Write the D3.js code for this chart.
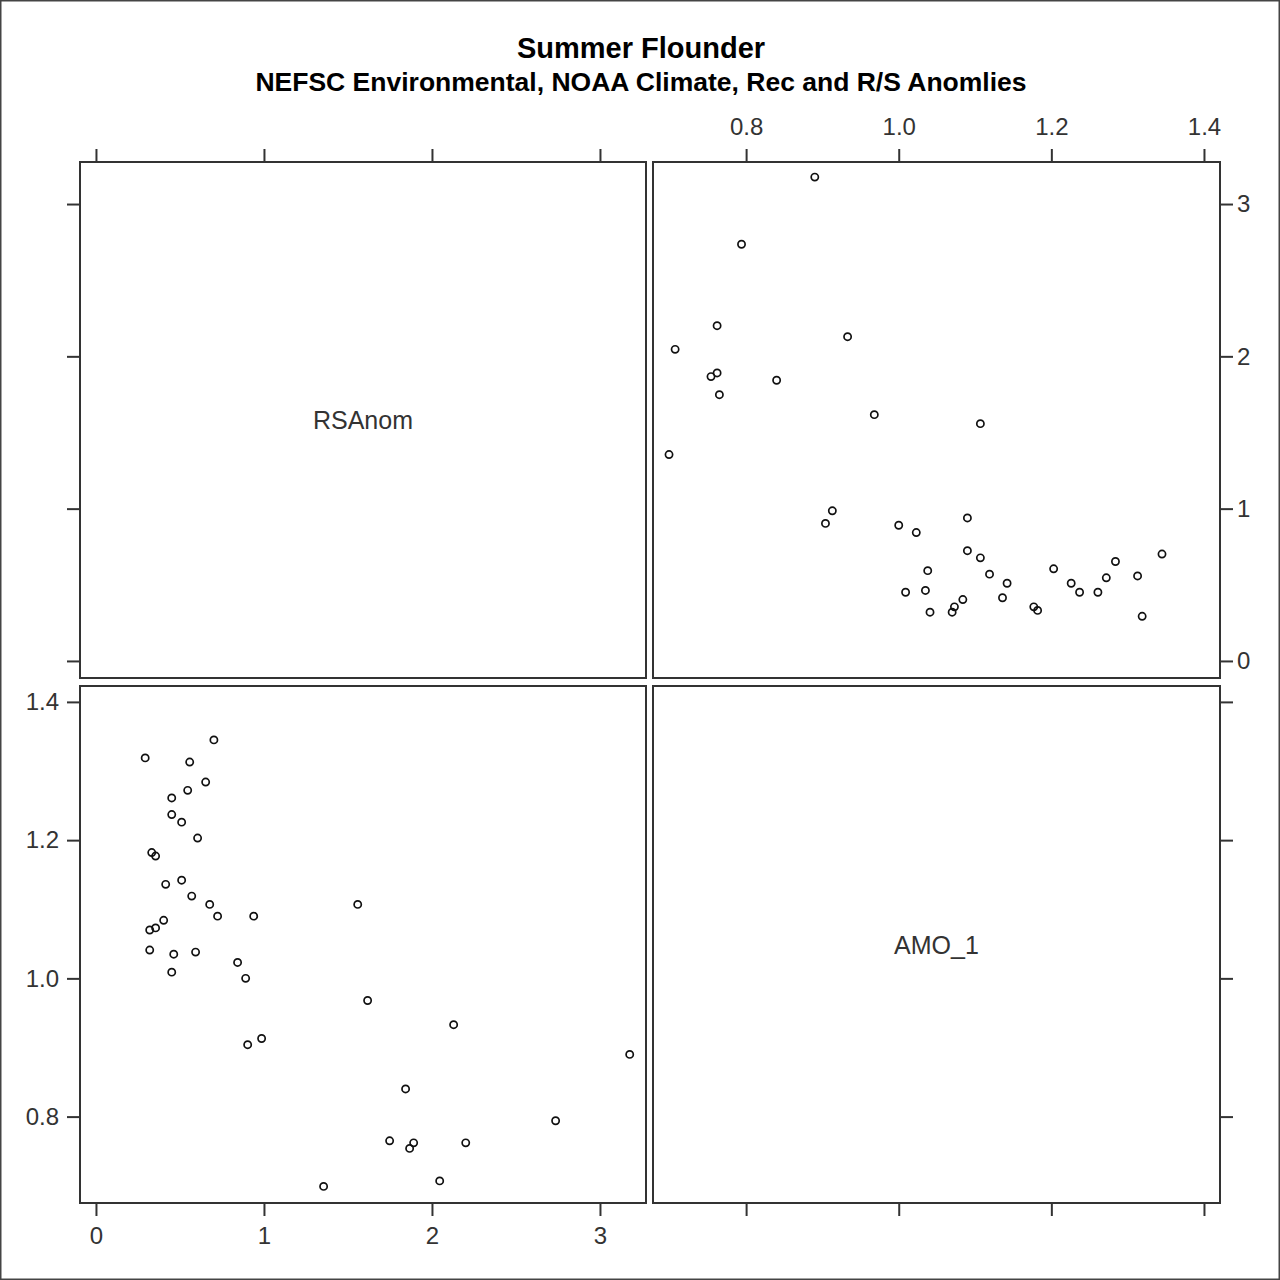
<!DOCTYPE html>
<html>
<head>
<meta charset="utf-8">
<script src="https://cdn.jsdelivr.net/npm/d3@7"></script>
<style>
  html, body { margin: 0; padding: 0; background: #fff; }
  svg { display: block; }
  text { font-family: "Liberation Sans", Arial, sans-serif; }
</style>
</head>
<body>
<svg id="chart" width="1280" height="1280"></svg>
<script>
// ---- Data ----
const variables = ["RSAnom", "AMO_1"];
const rsAnom = [0.293, 0.702, 0.558, 0.653, 0.546, 0.451, 0.451, 0.510, 0.605, 0.332,
                0.355, 0.415, 0.510, 0.570, 0.677, 0.724, 0.939, 0.403, 0.355, 0.320,
                0.320, 0.463, 0.593, 0.451, 0.843, 0.891, 1.558, 1.617, 0.903, 0.986,
                2.129, 1.843, 3.177, 2.736, 1.748, 1.891, 1.867, 2.201, 1.355, 2.046];
const amo1   = [1.319, 1.345, 1.313, 1.284, 1.272, 1.261, 1.237, 1.226, 1.203, 1.182,
                1.177, 1.136, 1.142, 1.119, 1.107, 1.090, 1.090, 1.084, 1.073, 1.070,
                1.041, 1.035, 1.038, 1.009, 1.023, 1.000, 1.107, 0.968, 0.904, 0.913,
                0.933, 0.840, 0.890, 0.794, 0.765, 0.762, 0.754, 0.762, 0.699, 0.707];
const rsTicks  = [0, 1, 2, 3];
const amoTicks = [0.8, 1.0, 1.2, 1.4];
const rsTickLabels  = ["0", "1", "2", "3"];
const amoTickLabels = ["0.8", "1.0", "1.2", "1.4"];
const titleText = "Summer Flounder";
const subtitleText = "NEFSC Environmental, NOAA Climate, Rec and R/S Anomlies";

// ---- Layout ----
const svg = d3.select("#chart");
const colL = [80, 646], colR = [653, 1220];
const rowT = [162, 678], rowB = [686, 1203];

const xRS  = d3.scaleLinear().domain([-0.095, 3.274]).range(colL);
const xAMO = d3.scaleLinear().domain([0.678, 1.421]).range(colR);
const yRS  = d3.scaleLinear().domain([-0.112, 3.276]).range([rowT[1], rowT[0]]);
const yAMO = d3.scaleLinear().domain([0.675, 1.423]).range([rowB[1], rowB[0]]);

const ink = "#333";
const points = rsAnom.map((r, i) => ({ rs: r, amo: amo1[i] }));

// outer frame
svg.append("rect").attr("x", 0.75).attr("y", 0.75).attr("width", 1278.5).attr("height", 1278.5)
  .attr("fill", "none").attr("stroke", "#444").attr("stroke-width", 1.5);

// titles
svg.append("text").attr("x", 641).attr("y", 58).attr("text-anchor", "middle")
  .attr("font-size", 29).attr("font-weight", "bold").attr("fill", "#000").text(titleText);
svg.append("text").attr("x", 641).attr("y", 91).attr("text-anchor", "middle")
  .attr("font-size", 26.5).attr("font-weight", "bold").attr("fill", "#000").text(subtitleText);

// panel frames
const panels = [[colL, rowT], [colR, rowT], [colL, rowB], [colR, rowB]];
panels.forEach(([c, r]) => {
  svg.append("rect").attr("x", c[0]).attr("y", r[0])
    .attr("width", c[1] - c[0]).attr("height", r[1] - r[0])
    .attr("fill", "none").attr("stroke", ink).attr("stroke-width", 2);
});

// axes helper
function drawAxis(axisFn, scale, ticks, labels, showLabels, tx, ty, pad) {
  const ax = axisFn(scale).tickValues(ticks).tickSize(13).tickPadding(pad)
    .tickFormat((d, i) => showLabels ? labels[i] : "");
  const g = svg.append("g").attr("transform", `translate(${tx},${ty})`).call(ax);
  g.select(".domain").remove();
  g.selectAll(".tick line").attr("stroke", ink).attr("stroke-width", 2);
  g.selectAll(".tick text").attr("fill", ink).attr("font-size", 24)
    .attr("font-family", '"Liberation Sans", Arial, sans-serif');
}
// top
drawAxis(d3.axisTop, xRS, rsTicks, rsTickLabels, false, 0, rowT[0], 14);
drawAxis(d3.axisTop, xAMO, amoTicks, amoTickLabels, true, 0, rowT[0], 14);
// bottom
drawAxis(d3.axisBottom, xRS, rsTicks, rsTickLabels, true, 0, rowB[1], 11);
drawAxis(d3.axisBottom, xAMO, amoTicks, amoTickLabels, false, 0, rowB[1], 11);
// left
drawAxis(d3.axisLeft, yRS, rsTicks, rsTickLabels, false, colL[0], 0, 8);
drawAxis(d3.axisLeft, yAMO, amoTicks, amoTickLabels, true, colL[0], 0, 8);
// right
drawAxis(d3.axisRight, yRS, rsTicks, rsTickLabels, true, colR[1], 0, 4);
drawAxis(d3.axisRight, yAMO, amoTicks, amoTickLabels, false, colR[1], 0, 4);

// diagonal labels
svg.append("text").attr("x", (colL[0] + colL[1]) / 2).attr("y", (rowT[0] + rowT[1]) / 2)
  .attr("text-anchor", "middle").attr("dominant-baseline", "central")
  .attr("font-size", 25).attr("fill", ink).text(variables[0]);
svg.append("text").attr("x", (colR[0] + colR[1]) / 2).attr("y", (rowB[0] + rowB[1]) / 2)
  .attr("text-anchor", "middle").attr("dominant-baseline", "central")
  .attr("font-size", 25).attr("fill", ink).text(variables[1]);

// scatter: top-right (x = AMO_1, y = RSAnom)
svg.append("g").selectAll("circle").data(points).join("circle")
  .attr("cx", d => xAMO(d.amo)).attr("cy", d => yRS(d.rs)).attr("r", 3.6)
  .attr("fill", "none").attr("stroke", "#111").attr("stroke-width", 1.7);
// scatter: bottom-left (x = RSAnom, y = AMO_1)
svg.append("g").selectAll("circle").data(points).join("circle")
  .attr("cx", d => xRS(d.rs)).attr("cy", d => yAMO(d.amo)).attr("r", 3.6)
  .attr("fill", "none").attr("stroke", "#111").attr("stroke-width", 1.7);
</script>
</body>
</html>
